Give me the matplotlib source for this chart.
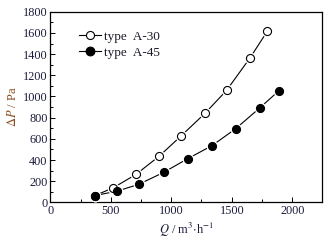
import matplotlib
matplotlib.use("Agg")
import matplotlib.pyplot as plt
from matplotlib.ticker import MultipleLocator
from matplotlib.lines import Line2D

q_a30 = [366, 521, 708, 901, 1080, 1278, 1457, 1650, 1793]
p_a30 = [63, 138, 264, 437, 626, 840, 1057, 1362, 1614]
q_a45 = [366, 554, 730, 937, 1135, 1336, 1532, 1730, 1890]
p_a45 = [63, 107, 170, 283, 412, 535, 695, 890, 1054]
labels = ["type  A-30", "type  A-45"]

plt.rcParams['font.family'] = ['Liberation Serif', 'DejaVu Serif']
plt.rcParams['mathtext.fontset'] = 'stix'
tick_color = '#1c1c3c'

fig = plt.figure(figsize=(3.29, 2.45), dpi=100)
ax = fig.add_axes([0.153, 0.174, 0.827, 0.778])

for q, p, fc in [(q_a30, p_a30, 'white'), (q_a45, p_a45, 'black')]:
    ax.plot(q, p, '-', color='black', lw=0.8, zorder=2)
    ax.plot(q, p, 'o', ms=8.5, mfc='white', mec='white', mew=0, zorder=3)
    ax.plot(q, p, 'o', ms=5.8, mfc=fc, mec='black', mew=0.8, zorder=4)

handles = [Line2D([], [], color='black', lw=0.8, marker='o', ms=5.8, mfc='white', mec='black', mew=0.8),
           Line2D([], [], color='black', lw=0.8, marker='o', ms=6.3, mfc='black', mec='black', mew=0.8)]
leg = ax.legend(handles, labels, loc='upper left', bbox_to_anchor=(0.07, 0.95), frameon=False,
                fontsize=9.5, handlelength=1.7, handletextpad=0.25, labelspacing=0.3, borderpad=0.2)
for t in leg.get_texts():
    t.set_color('#1a1a2a')

ax.set_xlim(0, 2250)
ax.set_ylim(0, 1800)
ax.xaxis.set_major_locator(MultipleLocator(500))
ax.xaxis.set_minor_locator(MultipleLocator(250))
ax.yaxis.set_major_locator(MultipleLocator(200))
ax.yaxis.set_minor_locator(MultipleLocator(100))
ax.tick_params(which='both', direction='in', top=False, right=False, labelsize=8.8,
               labelcolor=tick_color, width=0.7)
ax.tick_params(which='major', length=3.5, pad=2)
ax.tick_params(which='minor', length=2)
for s in ax.spines.values():
    s.set_linewidth(0.9)

ax.set_ylabel(r'$\Delta P$ / Pa', color='#8a4a1e', fontsize=9, labelpad=3)
ax.set_xlabel(r'$Q$ / m$^3$$\cdot$h$^{-1}$', color=tick_color, fontsize=9, labelpad=3)

fig.savefig('out.png', dpi=100)
